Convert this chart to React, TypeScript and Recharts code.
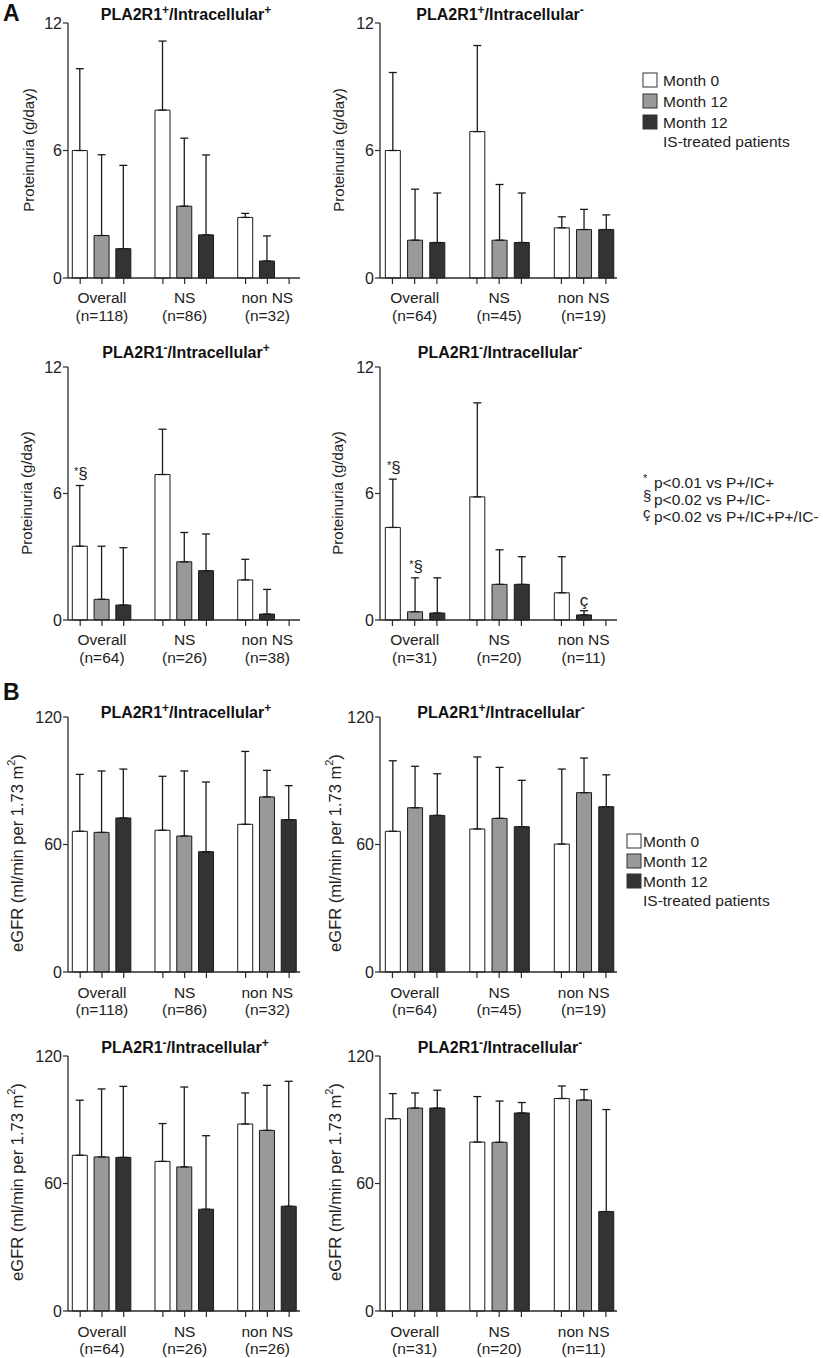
import React from 'react';
import { BarChart, Bar, XAxis, YAxis, ErrorBar, Cell, LabelList } from 'recharts';

const FONT = '"Liberation Sans", Arial, Helvetica, sans-serif';
const AXIS = '#2a2a2a';
const FILLS = ['#ffffff', '#999999', '#333333'];
const STRIDE = 3.8;

// ---------- categories ----------
const groupNames = ['Overall', 'NS', 'non NS'];
const countsPP = ['(n=118)', '(n=86)', '(n=32)'];
const countsPM = ['(n=64)', '(n=45)', '(n=19)'];
const countsMPa = ['(n=64)', '(n=26)', '(n=38)'];
const countsMPb = ['(n=64)', '(n=26)', '(n=26)'];
const countsMM = ['(n=31)', '(n=20)', '(n=11)'];
const protTicks = [0, 6, 12];
const egfrTicks = [0, 60, 120];

// ---------- A: proteinuria (g/day) ----------
const a1Month0 = [6.0, 7.9, 2.85];
const a1Month0Sd = [3.85, 3.25, 0.19];
const a1Month12 = [2.0, 3.38, 0.8];
const a1Month12Sd = [3.8, 3.2, 1.18];
const a1Month12IS = [1.38, 2.03, 0];
const a1Month12ISSd = [3.92, 3.76, 1.35];

const a2Month0 = [6.0, 6.89, 2.36];
const a2Month0Sd = [3.67, 4.05, 0.52];
const a2Month12 = [1.78, 1.78, 2.28];
const a2Month12Sd = [2.4, 2.62, 0.95];
const a2Month12IS = [1.67, 1.67, 2.28];
const a2Month12ISSd = [2.33, 2.33, 0.69];

const a3Month0 = [3.5, 6.9, 1.9];
const a3Month0Sd = [2.88, 2.15, 0.98];
const a3Month12 = [0.98, 2.76, 0.28];
const a3Month12Sd = [2.52, 1.39, 1.17];
const a3Month12IS = [0.71, 2.34, 0];
const a3Month12ISSd = [2.72, 1.74, 1.82];
const a3Notes = [['*§', '', ''], ['', '', ''], ['', '', '']];

const a4Month0 = [4.39, 5.84, 1.29];
const a4Month0Sd = [2.29, 4.46, 1.71];
const a4Month12 = [0.39, 1.69, 0.24];
const a4Month12Sd = [1.61, 1.64, 0.2];
const a4Month12IS: (number | null)[] = [0.33, 1.69, null];
const a4Month12ISSd = [1.67, 1.31, 0];
const a4Notes = [['*§', '', ''], ['*§', '', 'ç'], ['', '', '']];

// ---------- B: eGFR ----------
const b1Month0 = [66.2, 66.7, 69.5];
const b1Month0Sd = [26.8, 25.4, 34.3];
const b1Month12 = [65.7, 64.0, 82.4];
const b1Month12Sd = [28.9, 30.6, 12.5];
const b1Month12IS = [72.5, 56.6, 71.7];
const b1Month12ISSd = [23.0, 32.8, 16.0];

const b2Month0 = [66.2, 67.3, 60.2];
const b2Month0Sd = [33.2, 33.9, 35.3];
const b2Month12 = [77.3, 72.3, 84.4];
const b2Month12Sd = [19.5, 24.0, 16.3];
const b2Month12IS = [73.7, 68.4, 77.8];
const b2Month12ISSd = [19.6, 21.8, 15.0];

const b3Month0 = [73.3, 70.4, 88.0];
const b3Month0Sd = [25.9, 17.8, 14.6];
const b3Month12 = [72.5, 67.8, 85.0];
const b3Month12Sd = [32.0, 37.6, 21.2];
const b3Month12IS = [72.3, 47.9, 49.3];
const b3Month12ISSd = [33.4, 34.6, 58.8];

const b4Month0 = [90.5, 79.5, 100.0];
const b4Month0Sd = [11.8, 21.4, 5.9];
const b4Month12 = [95.5, 79.4, 99.3];
const b4Month12Sd = [7.1, 19.4, 4.9];
const b4Month12IS = [95.5, 93.2, 46.8];
const b4Month12ISSd = [8.4, 4.9, 48.0];

const legendLabels = ['Month 0', 'Month 12', 'Month 12'];
const legendExtra = 'IS-treated patients';
const footnotes = [
  { sym: '*', text: 'p<0.01 vs P+/IC+' },
  { sym: '§', text: 'p<0.02 vs P+/IC-' },
  { sym: 'ç', text: 'p<0.02 vs P+/IC+P+/IC-' },
];

type Row = { x: number; v: number; e: [number, number]; fill: string; note: string };

function buildRows(
  values: (number | null)[][],
  sds: number[][],
  notes: string[][] | undefined,
  oddSlot: boolean
): Row[] {
  const rows: Row[] = [];
  for (let g = 0; g < 3; g++) {
    for (let s = 0; s < 3; s++) {
      const v = values[s][g];
      if (v === null || v === undefined) continue;
      const fillIdx = oddSlot && g === 2 && s === 1 ? 2 : s;
      rows.push({
        x: g * STRIDE + s,
        v,
        e: [0, sds[s][g]],
        fill: FILLS[fillIdx],
        note: notes ? notes[s][g] : '',
      });
    }
  }
  return rows;
}

const tickPositions = [0, 1, 2].flatMap((g) => [0, 1, 2].map((s) => g * STRIDE + s));

type PanelProps = {
  plotLeft: number;
  plotTop: number;
  plotW: number;
  plotH: number;
  yMax: number;
  yTicks: number[];
  values: (number | null)[][];
  sds: number[][];
  notes?: string[][];
  counts: string[];
  oddSlot?: boolean;
  labelDy: [number, number];
};

const Y_W = 50;
const M_TOP = 12;
const X_H = 60;

function Panel(p: PanelProps) {
  const rows = buildRows(p.values, p.sds, p.notes, !!p.oddSlot);
  const pxPerUnit = p.plotH / p.yMax;
  const width = Y_W + p.plotW + 4;
  const height = M_TOP + p.plotH + X_H;

  const renderTick = (props: any) => {
    const { x, y, payload } = props;
    const idx = tickPositions.findIndex((t) => Math.abs(t - payload.value) < 1e-6);
    const g = Math.floor(idx / 3);
    const s = idx % 3;
    return (
      <g>
        <line x1={x} x2={x} y1={y} y2={y + 6} stroke={AXIS} strokeWidth={1.2} />
        {s === 1 && (
          <text x={x} y={y + p.labelDy[0]} textAnchor="middle" fontSize={15.5} fill="#222" fontFamily={FONT}>
            {groupNames[g]}
          </text>
        )}
        {s === 1 && (
          <text x={x} y={y + p.labelDy[1]} textAnchor="middle" fontSize={15.5} fill="#222" fontFamily={FONT}>
            {p.counts[g]}
          </text>
        )}
      </g>
    );
  };

  const renderNote = (lp: any) => {
    const r = rows[lp.index];
    if (!r || !r.note) return null;
    const cx = Number(lp.x) + Number(lp.width) / 2;
    const top = Number(lp.y) - r.e[1] * pxPerUnit;
    if (r.note === '*§') {
      return (
        <text x={cx + 1} y={top - 6} textAnchor="middle" fontFamily={FONT} fill="#222">
          <tspan fontSize={11} dy={-4}>*</tspan>
          <tspan fontSize={17} dy={4}>§</tspan>
        </text>
      );
    }
    return (
      <text x={cx} y={top - 5} textAnchor="middle" fontFamily={FONT} fontSize={17} fill="#222">
        {r.note}
      </text>
    );
  };

  return (
    <div
      style={{
        position: 'absolute',
        left: p.plotLeft - Y_W,
        top: p.plotTop - M_TOP,
        width,
        height,
      }}
    >
      <BarChart
        width={width}
        height={height}
        data={rows}
        margin={{ top: M_TOP, right: 4, bottom: 0, left: 0 }}
        style={{ fontFamily: FONT }}
      >
        <XAxis
          dataKey="x"
          type="number"
          domain={[-0.56, 10.1]}
          allowDataOverflow
          ticks={tickPositions}
          interval={0}
          tickLine={false}
          tickSize={0}
          tickMargin={0}
          height={X_H}
          axisLine={{ stroke: AXIS, strokeWidth: 1.3 }}
          tick={renderTick}
        />
        <YAxis
          type="number"
          domain={[0, p.yMax]}
          ticks={p.yTicks}
          interval={0}
          width={Y_W}
          tickSize={5}
          tickMargin={1}
          axisLine={{ stroke: AXIS, strokeWidth: 1.3 }}
          tickLine={{ stroke: AXIS, strokeWidth: 1.2 }}
          tick={{ fontSize: 16, fill: '#222', fontFamily: FONT }}
        />
        <Bar dataKey="v" barSize={15} isAnimationActive={false} stroke="#1a1a1a" strokeWidth={1}>
          {rows.map((r, i) => (
            <Cell key={i} fill={r.fill} />
          ))}
          <ErrorBar dataKey="e" direction="y" width={4} stroke="#1a1a1a" strokeWidth={1.3} />
          <LabelList dataKey="note" content={renderNote} />
        </Bar>
      </BarChart>
    </div>
  );
}

function Title({ cx, y, first, second }: { cx: number; y: number; first: string; second: string }) {
  return (
    <text x={cx} y={y} textAnchor="middle" fontWeight="bold" fontSize={16} fontFamily={FONT} fill="#111">
      PLA2R1
      <tspan fontSize={12} dy={-6}>{first}</tspan>
      <tspan dy={6}>/Intracellular</tspan>
      <tspan fontSize={12} dy={-6}>{second}</tspan>
    </text>
  );
}

function ProtLabel({ x, y }: { x: number; y: number }) {
  return (
    <text
      x={x}
      y={y}
      transform={`rotate(-90 ${x} ${y})`}
      textAnchor="middle"
      dominantBaseline="central"
      fontSize={15}
      fontFamily={FONT}
      fill="#222"
    >
      Proteinuria (g/day)
    </text>
  );
}

function EgfrLabel({ x, y }: { x: number; y: number }) {
  return (
    <text
      x={x}
      y={y}
      transform={`rotate(-90 ${x} ${y})`}
      textAnchor="middle"
      dominantBaseline="central"
      fontSize={16.5}
      fontFamily={FONT}
      fill="#222"
    >
      eGFR (ml/min per 1.73 m<tspan fontSize={11} dy={-6}>2</tspan>
      <tspan dy={6}>)</tspan>
    </text>
  );
}

function Legend({ boxX, textX, rowY }: { boxX: number; textX: number; rowY: number[] }) {
  return (
    <g fontFamily={FONT} fontSize={15.5} fill="#222">
      {legendLabels.map((l, i) => (
        <g key={i}>
          <rect x={boxX} y={rowY[i] - 7} width={14} height={14} fill={FILLS[i]} stroke="#333" strokeWidth={1} />
          <text x={textX} y={rowY[i] + 5.5}>{l}</text>
        </g>
      ))}
      <text x={textX} y={rowY[3] + 5.5}>{legendExtra}</text>
    </g>
  );
}

export default function App() {
  const aDy: [number, number] = [24.5, 42.5];
  const bDy: [number, number] = [26, 43];
  return (
    <div
      style={{
        position: 'absolute',
        left: 0,
        top: 0,
        width: 823,
        height: 1358,
        background: '#fff',
        fontFamily: FONT,
        overflow: 'hidden',
      }}
    >
      <Panel plotLeft={68} plotTop={23} plotW={232} plotH={255} yMax={12} yTicks={protTicks}
        values={[a1Month0, a1Month12, a1Month12IS]} sds={[a1Month0Sd, a1Month12Sd, a1Month12ISSd]}
        counts={countsPP} oddSlot labelDy={aDy} />
      <Panel plotLeft={380} plotTop={23} plotW={237} plotH={255} yMax={12} yTicks={protTicks}
        values={[a2Month0, a2Month12, a2Month12IS]} sds={[a2Month0Sd, a2Month12Sd, a2Month12ISSd]}
        counts={countsPM} labelDy={aDy} />
      <Panel plotLeft={68} plotTop={367} plotW={232} plotH={253} yMax={12} yTicks={protTicks}
        values={[a3Month0, a3Month12, a3Month12IS]} sds={[a3Month0Sd, a3Month12Sd, a3Month12ISSd]}
        notes={a3Notes} counts={countsMPa} oddSlot labelDy={aDy} />
      <Panel plotLeft={380} plotTop={367} plotW={237} plotH={253} yMax={12} yTicks={protTicks}
        values={[a4Month0, a4Month12, a4Month12IS]} sds={[a4Month0Sd, a4Month12Sd, a4Month12ISSd]}
        notes={a4Notes} counts={countsMM} oddSlot labelDy={aDy} />

      <Panel plotLeft={68} plotTop={717} plotW={232} plotH={255} yMax={120} yTicks={egfrTicks}
        values={[b1Month0, b1Month12, b1Month12IS]} sds={[b1Month0Sd, b1Month12Sd, b1Month12ISSd]}
        counts={countsPP} labelDy={bDy} />
      <Panel plotLeft={380} plotTop={717} plotW={237} plotH={255} yMax={120} yTicks={egfrTicks}
        values={[b2Month0, b2Month12, b2Month12IS]} sds={[b2Month0Sd, b2Month12Sd, b2Month12ISSd]}
        counts={countsPM} labelDy={bDy} />
      <Panel plotLeft={68} plotTop={1056} plotW={232} plotH={255} yMax={120} yTicks={egfrTicks}
        values={[b3Month0, b3Month12, b3Month12IS]} sds={[b3Month0Sd, b3Month12Sd, b3Month12ISSd]}
        counts={countsMPb} labelDy={bDy} />
      <Panel plotLeft={380} plotTop={1056} plotW={237} plotH={255} yMax={120} yTicks={egfrTicks}
        values={[b4Month0, b4Month12, b4Month12IS]} sds={[b4Month0Sd, b4Month12Sd, b4Month12ISSd]}
        counts={countsMM} labelDy={bDy} />

      <svg
        width={823}
        height={1358}
        style={{ position: 'absolute', left: 0, top: 0, pointerEvents: 'none' }}
      >
        <text x={3} y={21} fontWeight="bold" fontSize={23} fontFamily={FONT} fill="#111">A</text>
        <text x={3} y={700} fontWeight="bold" fontSize={23} fontFamily={FONT} fill="#111">B</text>

        <Title cx={186} y={20} first="+" second="+" />
        <Title cx={500} y={20} first="+" second="-" />
        <Title cx={186} y={358} first="-" second="+" />
        <Title cx={500} y={358} first="-" second="-" />
        <Title cx={186} y={718} first="+" second="+" />
        <Title cx={501} y={718} first="+" second="-" />
        <Title cx={185} y={1053} first="-" second="+" />
        <Title cx={500} y={1053} first="-" second="-" />

        <ProtLabel x={28} y={150} />
        <ProtLabel x={338} y={150} />
        <ProtLabel x={26} y={493} />
        <ProtLabel x={337} y={493} />
        <EgfrLabel x={17} y={853} />
        <EgfrLabel x={335} y={853} />
        <EgfrLabel x={17} y={1182} />
        <EgfrLabel x={335} y={1182} />

        <Legend boxX={643} textX={663} rowY={[80, 101, 122, 141]} />
        <Legend boxX={627} textX={643} rowY={[841, 861, 881, 900]} />

        <g fontFamily={FONT} fill="#222">
          {footnotes.map((f, i) => (
            <g key={i}>
              <text x={643} y={485 + i * 17 - (f.sym === '*' ? 3 : 1)} fontSize={f.sym === '*' ? 11 : 15}>
                {f.sym}
              </text>
              <text x={654} y={488 + i * 17} fontSize={15.5}>
                {f.text}
              </text>
            </g>
          ))}
        </g>
      </svg>
    </div>
  );
}
